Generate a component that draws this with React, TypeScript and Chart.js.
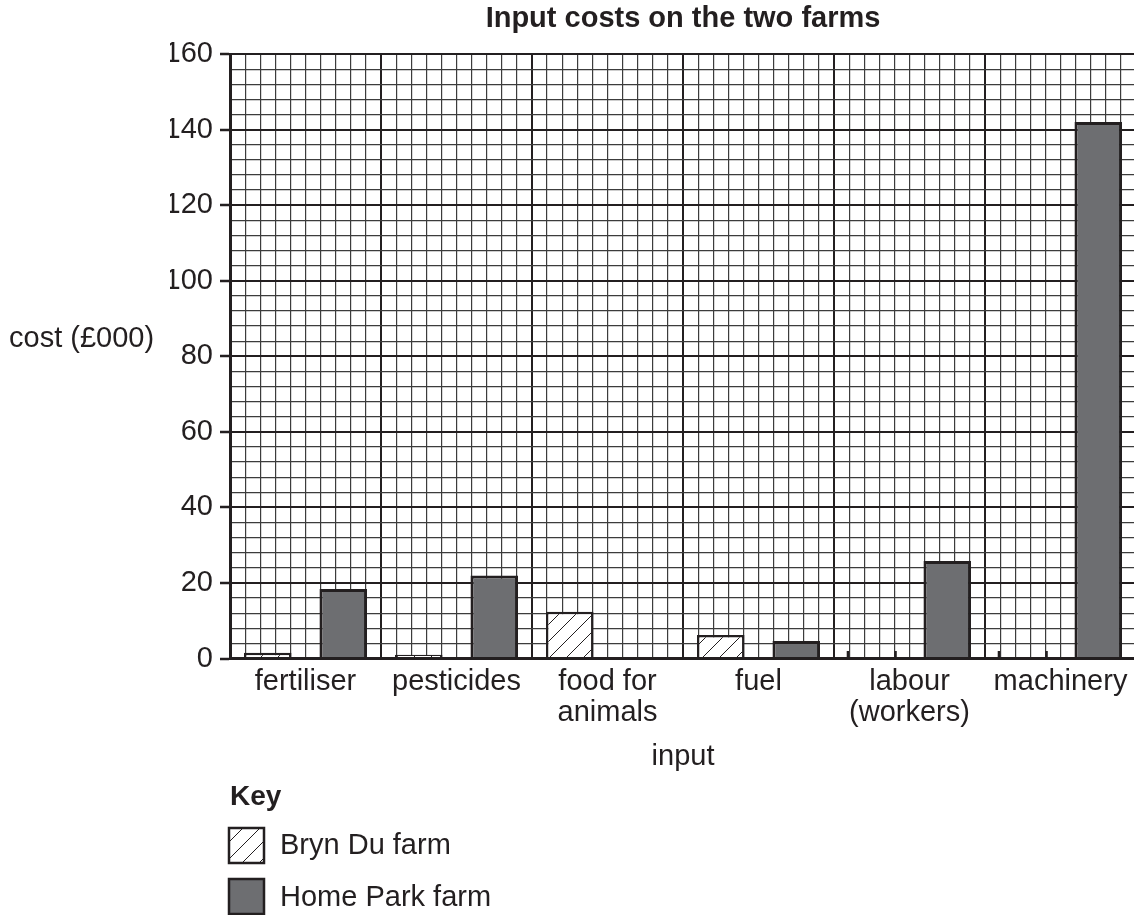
import React, { useEffect, useRef } from "react";
import { Chart, registerables } from "chart.js";

Chart.register(...registerables);

// ---- data ----
const categories: (string | string[])[] = [
  "fertiliser",
  "pesticides",
  ["food for", "animals"],
  "fuel",
  ["labour", "(workers)"],
  "machinery",
];
const seriesNames = ["Bryn Du farm", "Home Park farm"];
// null = not yet plotted (marked with short ticks on the axis)
const brynDu: (number | null)[] = [1.5, 1, 12.4, 6.2, null, null];
const homePark: (number | null)[] = [18.4, 22, 0, 4.6, 25.8, 142];
const yMax = 160;
const yMajorStep = 20;
const yMinorStep = 4;
const minorPerCategory = 10;
const chartTitle = "Input costs on the two farms";
const xAxisTitle = "input";
const yAxisTitle = "cost (£000)";
const keyTitle = "Key";

// ---- styles ----
const FONT = "'Liberation Sans', Arial, Helvetica, sans-serif";
const INK = "#231f20";
const BAR_GREY = "#6d6e71";
const MINOR = "#3c3c3c";

function makeHatch(ctx: CanvasRenderingContext2D): CanvasPattern | string {
  const s = 17;
  const c = document.createElement("canvas");
  c.width = s;
  c.height = s;
  const g = c.getContext("2d");
  if (!g) return "#fff";
  g.fillStyle = "#ffffff";
  g.fillRect(0, 0, s, s);
  g.strokeStyle = INK;
  g.lineWidth = 1;
  g.beginPath();
  g.moveTo(0, s);
  g.lineTo(s, 0);
  g.moveTo(-3, 3);
  g.lineTo(3, -3);
  g.moveTo(s - 3, s + 3);
  g.lineTo(s + 3, s - 3);
  g.stroke();
  return ctx.createPattern(c, "repeat") || "#fff";
}

const yTitlePlugin = {
  id: "yTitleFlat",
  afterDraw(chart: any) {
    const { ctx } = chart;
    ctx.save();
    ctx.font = `29px ${FONT}`;
    ctx.fillStyle = INK;
    ctx.textAlign = "left";
    ctx.textBaseline = "alphabetic";
    ctx.fillText(yAxisTitle, 9, 347);
    ctx.restore();
  },
};

const missingMarkPlugin = {
  id: "missingMarks",
  afterDatasetsDraw(chart: any) {
    const { ctx } = chart;
    const yScale = chart.scales.y;
    const base = yScale.getPixelForValue(0);
    const top = yScale.getPixelForValue(2);
    ctx.save();
    ctx.strokeStyle = INK;
    ctx.lineWidth = 2.5;
    chart.data.datasets.forEach((ds: any, di: number) => {
      const meta = chart.getDatasetMeta(di);
      ds.data.forEach((v: any, i: number) => {
        if (v !== null) return;
        const el = meta.data[i];
        if (!el) return;
        const half = el.width / 2;
        ctx.beginPath();
        ctx.moveTo(el.x - half, base);
        ctx.lineTo(el.x - half, top);
        ctx.moveTo(el.x + half, base);
        ctx.lineTo(el.x + half, top);
        ctx.stroke();
      });
    });
    ctx.restore();
  },
};

const keyPlugin = {
  id: "keyBox",
  afterDraw(chart: any) {
    const { ctx } = chart;
    ctx.save();
    ctx.fillStyle = INK;
    ctx.textAlign = "left";
    ctx.textBaseline = "alphabetic";
    ctx.font = `bold 28px ${FONT}`;
    ctx.fillText(keyTitle, 230, 805);
    chart.data.datasets.forEach((ds: any, i: number) => {
      const bx = 229;
      const by = 828 + i * 51;
      const size = 35;
      ctx.fillStyle = ds.backgroundColor;
      ctx.fillRect(bx, by, size, size);
      ctx.strokeStyle = ds.borderColor;
      ctx.lineWidth = 2.5;
      ctx.strokeRect(bx, by, size, size);
      ctx.fillStyle = INK;
      ctx.font = `29px ${FONT}`;
      ctx.fillText(ds.label, 280, 854 + i * 52);
    });
    ctx.restore();
  },
};

export default function App() {
  const ref = useRef<HTMLCanvasElement>(null);

  useEffect(() => {
    document.body.style.margin = "0";
    const canvas = ref.current;
    if (!canvas) return;
    const ctx = canvas.getContext("2d");
    if (!ctx) return;
    const hatch = makeHatch(ctx);

    const chart = new Chart(ctx, {
      type: "bar",
      data: {
        labels: categories as any,
        datasets: [
          {
            label: seriesNames[0],
            data: brynDu as any,
            backgroundColor: hatch as any,
            borderColor: INK,
            borderWidth: 2.5,
            xAxisID: "x",
            yAxisID: "y",
          },
          {
            label: seriesNames[1],
            data: homePark as any,
            backgroundColor: BAR_GREY,
            borderColor: INK,
            borderWidth: 3,
            xAxisID: "x",
            yAxisID: "y",
          },
        ],
      },
      options: {
        responsive: false,
        animation: false,
        events: [],
        layout: { padding: { left: 170, right: 4, top: 0, bottom: 136.5 } },
        datasets: { bar: { categoryPercentage: 1, barPercentage: 0.63 } },
        plugins: {
          legend: { display: false },
          tooltip: { enabled: false },
          title: {
            display: true,
            text: chartTitle,
            fullSize: false,
            color: INK,
            font: { family: FONT, size: 29, weight: "bold", lineHeight: 1 },
            padding: { top: 4, bottom: 21 },
          },
        },
        scales: {
          x: {
            type: "category",
            position: "bottom",
            offset: true,
            grid: { display: false, drawTicks: false },
            border: { display: true, color: INK, width: 3, z: 1 },
            ticks: {
              color: INK,
              font: { family: FONT, size: 29, lineHeight: 1.07 },
              padding: 8,
              autoSkip: false,
              maxRotation: 0,
              minRotation: 0,
            },
            title: {
              display: true,
              text: xAxisTitle,
              color: INK,
              font: { family: FONT, size: 29, lineHeight: 1 },
              padding: { top: 0, bottom: 7 },
            },
            afterFit: (s: any) => {
              s.height = 120;
            },
          },
          xg: {
            type: "linear",
            axis: "x",
            position: "top",
            offset: false,
            min: 0,
            max: categories.length * minorPerCategory,
            grid: {
              offset: false,
              drawTicks: false,
              color: (c: any) =>
                c.tick && c.tick.value % minorPerCategory === 0 ? INK : MINOR,
              lineWidth: (c: any) =>
                c.tick && c.tick.value % minorPerCategory === 0 ? 2 : 1.2,
            },
            border: { display: false },
            ticks: { display: false, stepSize: 1, maxTicksLimit: 1000, autoSkip: false },
            afterFit: (s: any) => {
              s.height = 0;
            },
          },
          y: {
            type: "linear",
            position: "left",
            min: 0,
            max: yMax,
            grid: {
              drawTicks: true,
              tickLength: 10,
              tickWidth: 2.5,
              tickColor: (c: any) =>
                c.tick && c.tick.value % yMajorStep === 0 ? INK : "rgba(0,0,0,0)",
              color: (c: any) =>
                c.tick && c.tick.value % yMajorStep === 0 ? INK : MINOR,
              lineWidth: (c: any) =>
                c.tick && c.tick.value % yMajorStep === 0 ? 2 : 1.2,
            },
            border: { display: true, color: INK, width: 3 },
            ticks: {
              stepSize: yMinorStep,
              maxTicksLimit: 1000,
              autoSkip: false,
              padding: 7,
              color: INK,
              font: { family: FONT, size: 29 },
              callback: (v: any) => (Number(v) % yMajorStep === 0 ? String(v) : ""),
            },
            afterFit: (s: any) => {
              s.width = 60;
            },
          },
        } as any,
      },
      plugins: [yTitlePlugin, missingMarkPlugin, keyPlugin],
    } as any);

    return () => chart.destroy();
  }, []);

  return (
    <div style={{ width: 1134, height: 915, overflow: "hidden", position: "relative", background: "#fff" }}>
      <canvas
        ref={ref}
        width={1140}
        height={915}
        style={{ display: "block", width: 1140, height: 915 }}
      />
    </div>
  );
}
